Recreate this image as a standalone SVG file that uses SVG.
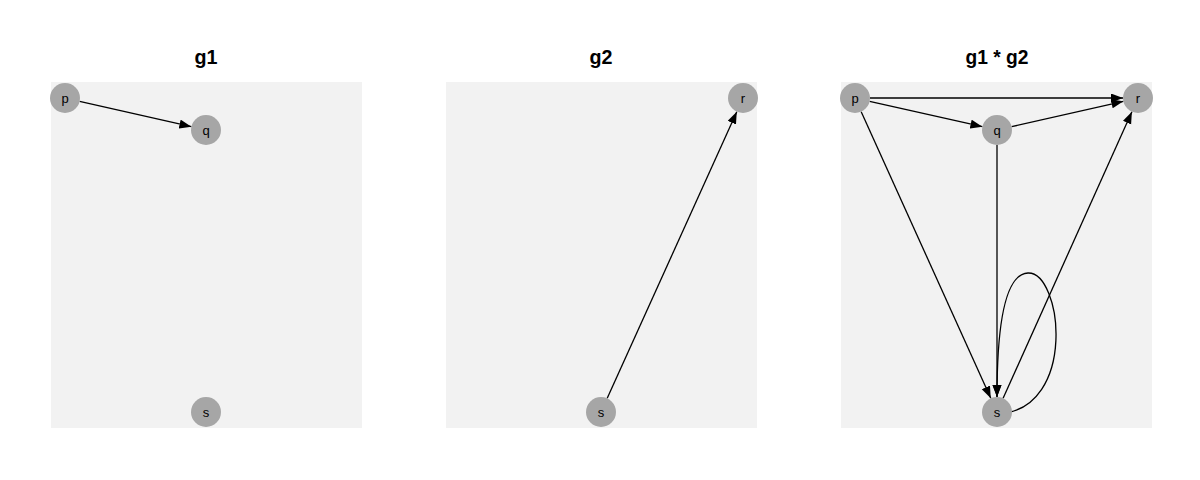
<svg xmlns="http://www.w3.org/2000/svg" width="1200" height="480" viewBox="0 0 1200 480">
<style>
.bg{fill:#f2f2f2}
.title{font-family:"Liberation Sans Narrow","Liberation Sans",Arial,sans-serif;font-weight:bold;font-size:21px;text-anchor:middle;fill:#000}
.node circle{fill:#a6a6a6}
.node text{font-family:"Liberation Sans",Arial,sans-serif;font-size:13px;text-anchor:middle;fill:#000}
.edge{stroke:#000;stroke-width:1.3;fill:none;marker-end:url(#arr)}
</style>
<defs>
<marker id="arr" markerUnits="userSpaceOnUse" markerWidth="14" markerHeight="10" refX="12" refY="4.5" orient="auto">
<path d="M0,0 L12,4.5 L0,9 Z" fill="#000"/>
</marker>
</defs>
<rect fill="#fff" x="0" y="0" width="1200" height="480"/>
<g id="panel-g1">
<rect class="bg" x="51" y="82" width="311" height="346"/>
<text class="title" x="206" y="64" textLength="23" lengthAdjust="spacingAndGlyphs">g1</text>
</g>
<g id="panel-g2">
<rect class="bg" x="446" y="82" width="311" height="346"/>
<text class="title" x="601" y="64" textLength="23" lengthAdjust="spacingAndGlyphs">g2</text>
</g>
<g id="panel-g3">
<rect class="bg" x="841" y="82" width="311" height="346"/>
<text class="title" x="997" y="64" textLength="63" lengthAdjust="spacingAndGlyphs">g1 * g2</text>
</g>
<g id="connectors">
<line class="edge" x1="79.6" y1="101.3" x2="191.4" y2="126.7"/>
<line class="edge" x1="607.2" y1="398.3" x2="736.8" y2="111.7"/>
<line class="edge" x1="870" y1="98" x2="1123" y2="98"/>
<line class="edge" x1="869.6" y1="101.3" x2="982.4" y2="126.7"/>
<line class="edge" x1="1011.6" y1="126.7" x2="1123.4" y2="101.3"/>
<line class="edge" x1="861.2" y1="111.7" x2="990.8" y2="398.3"/>
<line class="edge" x1="997" y1="145" x2="997" y2="397"/>
<line class="edge" x1="1003.1" y1="398.3" x2="1131.9" y2="111.7"/>
<path class="edge" d="M999,414 C1078,408 1062,272 1028,273 C1002,274 997,340 997,397"/>
</g>
<g id="g1-p" class="node"><circle cx="65" cy="98" r="15"/><text x="65" y="102.5">p</text></g>
<g id="g1-q" class="node"><circle cx="206" cy="130" r="15"/><text x="206" y="134.5">q</text></g>
<g id="g1-s" class="node"><circle cx="206" cy="412" r="15"/><text x="206" y="416.5">s</text></g>
<g id="g2-r" class="node"><circle cx="743" cy="98" r="15"/><text x="743" y="102.5">r</text></g>
<g id="g2-s" class="node"><circle cx="601" cy="412" r="15"/><text x="601" y="416.5">s</text></g>
<g id="g3-p" class="node"><circle cx="855" cy="98" r="15"/><text x="855" y="102.5">p</text></g>
<g id="g3-q" class="node"><circle cx="997" cy="130" r="15"/><text x="997" y="134.5">q</text></g>
<g id="g3-r" class="node"><circle cx="1138" cy="98" r="15"/><text x="1138" y="102.5">r</text></g>
<g id="g3-s" class="node"><circle cx="997" cy="412" r="15"/><text x="997" y="416.5">s</text></g>
</svg>
